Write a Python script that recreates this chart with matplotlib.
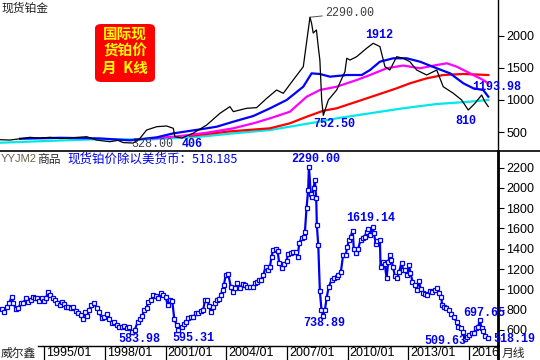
import matplotlib
matplotlib.use("Agg")
import matplotlib.pyplot as plt
from matplotlib.patches import FancyBboxPatch
from matplotlib.lines import Line2D

# ---- data (decimal year, USD / index value) ----
# top panel: monthly spot platinum close (sampled) and its moving averages
PRICE_X = [1992.81, 1993.30, 1993.80, 1994.29, 1994.79, 1995.28, 1995.78, 1996.11,
           1996.57, 1997.10, 1997.59, 1997.95, 1998.25, 1998.64, 1998.91, 1999.40,
           1999.73, 2000.06, 2000.56, 2001.05, 2001.38, 2001.46, 2001.81, 2002.35,
           2003.03, 2003.69, 2004.18, 2004.35, 2005.01, 2005.50, 2006.00, 2006.49,
           2006.82, 2007.31, 2007.81, 2008.14, 2008.22, 2008.30, 2008.46, 2008.55,
           2008.63, 2008.72, 2008.80,
           2009.05, 2009.46, 2009.87, 2009.96, 2010.12, 2010.45, 2010.94, 2011.27,
           2011.60, 2011.85, 2012.09, 2012.43, 2012.75, 2013.08, 2013.42, 2013.91,
           2014.41, 2014.73, 2015.23, 2015.64, 2015.97, 2016.30, 2016.63, 2016.79,
           2016.96]
PRICE_V = [380, 375, 395, 417, 405, 417, 400, 401,
           415, 427, 375, 360, 349, 370, 335, 328,
           401, 531, 583, 594, 558, 427, 406, 479,
           609, 792, 896, 818, 870, 880, 1025, 1155,
           1104, 1311, 1519, 2290, 2196, 2044, 2091, 1831,
           1623, 1000, 760,
           1000, 1155, 1441, 1650, 1623, 1675, 1806, 1884,
           1832, 1519, 1467, 1675, 1650, 1597, 1467, 1389,
           1467, 1207, 1104, 1000, 843, 947, 1077, 974,
           896]

BLUE_X = [1993.80, 1995.78, 1997.76, 1999.24, 2000.56, 2001.38, 2002.70, 2003.53,
          2004.35, 2005.34, 2006.16, 2006.99, 2007.81, 2008.22, 2008.63, 2009.13,
          2009.96, 2010.70, 2011.11, 2011.60, 2012.26, 2012.92, 2013.58, 2014.41,
          2015.07, 2015.73, 2016.22, 2016.71, 2016.96]
BLUE_V = [395, 410, 400, 370, 417, 479, 541, 583,
          661, 750, 869, 1000, 1207, 1415, 1405, 1363,
          1389, 1389, 1467, 1597, 1650, 1650, 1597, 1494,
          1415, 1259, 1182, 1155, 1051]

MAGENTA_X = [2000.38, 2001.71, 2003.03, 2004.35, 2005.34, 2006.16, 2007.15, 2007.98,
             2008.63, 2009.46, 2010.45, 2011.11, 2011.93, 2012.75, 2013.58, 2014.41,
             2014.91, 2015.40, 2016.06, 2016.71, 2016.96]
MAGENTA_V = [401, 437, 489, 558, 636, 713, 817, 1051,
             1155, 1207, 1311, 1389, 1494, 1537, 1494, 1545,
             1572, 1519, 1415, 1311, 1259]

RED_X = [2002.21, 2004.18, 2006.16, 2007.15, 2007.98, 2008.80, 2009.46, 2010.45,
         2011.44, 2012.43, 2013.08, 2013.91, 2014.73, 2015.73, 2016.96]
RED_V = [440, 510, 558, 636, 739, 832, 870, 973,
         1077, 1182, 1259, 1337, 1389, 1405, 1389]

CYAN_X = [1992.81, 1997.27, 2000.24, 2002.70, 2004.35, 2006.16, 2008.30, 2009.46,
          2011.11, 2012.75, 2014.41, 2016.06, 2016.96]
CYAN_V = [333, 385, 385, 427, 479, 531, 645, 713,
          792, 870, 937, 973, 1000]

# bottom panel: platinum price divided by US currency (index)
RATIO_X = [1992.90, 1993.01, 1993.14, 1993.27, 1993.39, 1993.47, 1993.60, 1993.72,
           1993.83, 1993.96, 1994.10, 1994.21, 1994.33, 1994.43, 1994.54, 1994.66,
           1994.75, 1994.87, 1994.99, 1995.09, 1995.17, 1995.28, 1995.42, 1995.53,
           1995.64, 1995.78, 1995.86, 1995.98, 1996.07, 1996.19, 1996.31, 1996.43,
           1996.57, 1996.68, 1996.80, 1996.90, 1997.01, 1997.13, 1997.23, 1997.31,
           1997.46, 1997.59, 1997.71, 1997.84, 1997.97, 1998.09, 1998.20, 1998.33,
           1998.46, 1998.58, 1998.69, 1998.83, 1998.96, 1999.07, 1999.19, 1999.32,
           1999.48, 1999.62, 1999.73, 1999.85, 1999.94, 2000.06, 2000.14, 2000.28,
           2000.39, 2000.51, 2000.64, 2000.77, 2000.88, 2001.00, 2001.10, 2001.21,
           2001.33, 2001.43, 2001.55, 2001.63, 2001.79, 2001.91, 2002.01, 2002.12,
           2002.24, 2002.37, 2002.50, 2002.61, 2002.73, 2002.86, 2002.95, 2003.06,
           2003.16, 2003.23, 2003.33, 2003.44, 2003.55, 2003.65, 2003.72, 2003.82,
           2003.88, 2003.98, 2004.10, 2004.22, 2004.31, 2004.43, 2004.51, 2004.68,
           2004.81, 2004.92, 2005.04, 2005.17, 2005.30, 2005.42, 2005.53, 2005.63,
           2005.71, 2005.83, 2005.95, 2006.04, 2006.16, 2006.24, 2006.32, 2006.44,
           2006.54, 2006.62, 2006.74, 2006.87, 2006.98, 2007.06, 2007.20, 2007.31,
           2007.43, 2007.53, 2007.61, 2007.73, 2007.84, 2007.89, 2007.97, 2008.05,
           2008.09, 2008.18, 2008.25, 2008.32, 2008.38, 2008.45, 2008.48, 2008.55,
           2008.63, 2008.71, 2008.79, 2008.88, 2008.96, 2009.07, 2009.21, 2009.34,
           2009.46, 2009.53, 2009.67, 2009.78, 2009.91, 2009.98, 2010.08, 2010.15,
           2010.25, 2010.31, 2010.41, 2010.52, 2010.64, 2010.74, 2010.85, 2010.94,
           2011.02, 2011.10, 2011.24, 2011.30, 2011.40, 2011.46, 2011.60, 2011.63,
           2011.73, 2011.84, 2011.93, 2012.01, 2012.09, 2012.17, 2012.25, 2012.34,
           2012.45, 2012.55, 2012.67, 2012.75, 2012.85, 2012.95, 2013.04, 2013.11,
           2013.21, 2013.33, 2013.41, 2013.54, 2013.61, 2013.71, 2013.82, 2013.94,
           2014.07, 2014.20, 2014.31, 2014.43, 2014.53, 2014.64, 2014.67, 2014.76,
           2014.89, 2015.02, 2015.14, 2015.25, 2015.39, 2015.47, 2015.59, 2015.69,
           2015.80, 2015.91, 2016.01, 2016.13, 2016.25, 2016.35, 2016.46, 2016.54,
           2016.63, 2016.71, 2016.79, 2016.93]
RATIO_V = [807, 780, 824, 869, 928, 863, 804, 814,
           863, 869, 912, 879, 896, 928, 912, 912,
           889, 912, 889, 912, 977, 945, 912, 896,
           869, 846, 879, 856, 830, 824, 814, 824,
           790, 770, 748, 705, 780, 738, 797, 846,
           863, 814, 780, 715, 725, 758, 705, 672,
           682, 649, 627, 627, 639, 617, 627, 584,
           600, 682, 705, 738, 797, 814, 879, 896,
           945, 935, 912, 961, 945, 928, 846, 896,
           889, 705, 649, 597, 627, 659, 682, 715,
           731, 725, 764, 770, 790, 797, 896, 896,
           836, 780, 824, 863, 896, 902, 945, 994,
           1043, 1142, 1152, 1027, 977, 1011, 1060, 1011,
           1053, 1043, 1027, 1027, 1027, 1060, 1076, 1092,
           1092, 1142, 1224, 1191, 1224, 1322, 1388, 1398,
           1378, 1257, 1214, 1247, 1280, 1346, 1356, 1371,
           1365, 1322, 1454, 1509, 1519, 1568, 1799, 1979,
           2210, 1937, 1913, 1996, 2078, 1897, 1634, 1437,
           984, 797, 739, 797, 912, 1027, 1092, 1109,
           1125, 1142, 1174, 1339, 1339, 1415, 1487, 1519,
           1578, 1395, 1355, 1395, 1487, 1503, 1519, 1568,
           1592, 1536, 1619, 1552, 1447, 1480, 1487, 1224,
           1273, 1250, 1109, 1273, 1339, 1290, 1218, 1132,
           1109, 1174, 1263, 1191, 1191, 1142, 1240, 1164,
           1076, 1043, 994, 1086, 1001, 961, 955, 945,
           987, 977, 994, 1011, 967, 928, 846, 824,
           814, 797, 758, 725, 682, 627, 617, 583,
           512, 534, 551, 573, 567, 617, 633, 698,
           617, 593, 541, 518]

DATE_YEARS = [1995, 1998, 2001, 2004, 2007, 2010, 2013, 2016]
TOP_TICKS = [500, 1000, 1500, 2000]
BOT_TICKS = [600, 800, 1000, 1200, 1400, 1600, 1800, 2000, 2200]

# ---- layout (pixel based, 540x360) ----
W, H = 540, 360
CJK = ["Noto Sans CJK SC", "DejaVu Sans"]
NUM = "Liberation Sans"
MONO = "Liberation Mono"
BLUE = "#0000F0"
XLIM = (1992.81, 2017.44)


def fx(px):
    return px / W


def fy(py):
    return 1 - py / H


fig = plt.figure(figsize=(5.4, 3.6), dpi=100)
fig.patch.set_facecolor("white")
ax_top = fig.add_axes([0, fy(151), fx(498), 151 / H])
ax_bot = fig.add_axes([0, fy(346), fx(498), 195 / H])
ax_date = fig.add_axes([0, 0, fx(498), 14 / H])

for ax in (ax_top, ax_bot):
    ax.set_xlim(*XLIM)
    ax.set_xticks([])
    for s in ("top", "left", "bottom"):
        ax.spines[s].set_visible(False)
    ax.spines["right"].set_color("black")
    ax.yaxis.tick_right()
    ax.tick_params(axis="y", direction="out", length=4, width=0.8, pad=2,
                   labelsize=9, colors="black")

ax_top.set_ylim(204, 2559)
ax_top.set_yticks(TOP_TICKS)
ax_top.set_yticklabels([str(t) for t in TOP_TICKS], family=NUM)
ax_top.spines["right"].set_linewidth(1.0)

ax_bot.set_ylim(442, 2363)
ax_bot.set_yticks(BOT_TICKS)
ax_bot.set_yticklabels([str(t) for t in BOT_TICKS], family=NUM)
ax_bot.spines["right"].set_linewidth(2.0)

# ---- top panel: price + moving averages ----
ax_top.plot(CYAN_X, CYAN_V, color="#00E8E8", lw=1.6, zorder=2)
ax_top.plot(RED_X, RED_V, color="#FF0000", lw=1.6, zorder=2)
ax_top.plot(MAGENTA_X, MAGENTA_V, color="#FF00FF", lw=1.6, zorder=2)
ax_top.plot(BLUE_X, BLUE_V, color="#0000FF", lw=1.6, zorder=3)
ax_top.plot(PRICE_X, PRICE_V, color="black", lw=0.9, zorder=4)

pk = PRICE_V.index(max(PRICE_V))
ax_top.annotate("2290.00", xy=(PRICE_X[pk], PRICE_V[pk]), xytext=(2008.89, 2356),
                ha="left", va="center", fontsize=8.5, family=MONO, color="#404040",
                arrowprops=dict(arrowstyle="-", color="#505050", lw=0.7,
                                shrinkA=0, shrinkB=0))
mono_lbl = dict(fontsize=8.5, family=MONO, fontweight="bold", color=BLUE,
                ha="center", va="center")
ax_top.text(2011.58, 2013, "1912", **mono_lbl)
ax_top.text(2009.33, 625, "752.50", **mono_lbl)
ax_top.text(2015.86, 676, "810", **mono_lbl)
ax_top.text(2017.39, 1197, "1193.98", clip_on=False, **mono_lbl)
ax_top.text(2002.30, 313, "406", **mono_lbl)
ax_top.text(2000.35, 313, "328.00", fontsize=8.5, family=MONO, color="#404058",
            ha="center", va="center")

# ---- bottom panel: ratio series ----
ax_bot.plot(RATIO_X, RATIO_V, color=BLUE, lw=1.6, marker="s", ms=3.2,
            mfc="white", mec=BLUE, mew=0.9, zorder=3)
ax_bot.text(2008.44, 2284, "2290.00", **mono_lbl)
ax_bot.text(2011.15, 1706, "1619.14", **mono_lbl)
ax_bot.text(1999.69, 508, "583.98", **mono_lbl)
ax_bot.text(2002.36, 524, "595.31", **mono_lbl)
ax_bot.text(2008.83, 666, "738.89", **mono_lbl)
ax_bot.text(2014.86, 492, "509.63", **mono_lbl)
ax_bot.text(2016.78, 770, "697.65", clip_on=False, **mono_lbl)
ax_bot.text(2017.19, 508, "518.19", clip_on=False,
            **{**mono_lbl, "ha": "left"})

# ---- date strip (labels clipped at the right axis like the source) ----
ax_date.set_xlim(*XLIM)
ax_date.set_ylim(0, 1)
ax_date.axis("off")
ax_date.plot([1995 - 6.3 / 20.22, XLIM[1]], [1, 1], color="black", lw=1.0,
             clip_on=False)
for yr in DATE_YEARS:
    ax_date.plot([yr, yr], [0, 1], color="black", lw=0.9)
    ax_date.text(yr + 0.1, 0.5, f"{yr}/01", ha="left", va="center", fontsize=9,
                 family=NUM, color="black", clip_on=True)
fig.add_artist(Line2D([fx(498), fx(498)], [0, fy(346)], color="black", lw=2.0))
fig.text(fx(1), fy(353), "威尔鑫", fontsize=8.5, family=CJK, va="center",
         color="#202020")
fig.text(fx(502), fy(353), "月线", fontsize=8.5, family=CJK, va="center",
         color="#202020")

# panel separator
fig.add_artist(Line2D([0, 1], [fy(151), fy(151)], color="black", lw=1.2))

# ---- headers and title box ----
fig.text(fx(2), fy(8), "现货铂金", fontsize=8.5, family=CJK, va="center",
         color="#202020")
fig.text(fx(1), fy(159), "YYJM2", fontsize=8, family=NUM, va="center",
         color="#6b6448")
fig.text(fx(37), fy(159), "商品", fontsize=8.5, family=CJK, va="center",
         color="#303030")
fig.text(fx(67), fy(159), "现货铂价除以美货币：518.185", fontsize=9, family=CJK,
         va="center", color=BLUE)

box = FancyBboxPatch((fx(95), fy(82)), fx(60), 58 / H, transform=fig.transFigure,
                     boxstyle="round,pad=0,rounding_size=0.012",
                     fc="#FF0000", ec="none", zorder=5)
fig.patches.append(box)
for txt, py in (("国际现", 34), ("货铂价", 51), ("月  K线", 68)):
    fig.text(fx(125), fy(py), txt, fontsize=10.5, family=CJK, fontweight="bold",
             color="#FFFF00", ha="center", va="center", zorder=6)

fig.savefig("out.png", dpi=100, facecolor="white")
